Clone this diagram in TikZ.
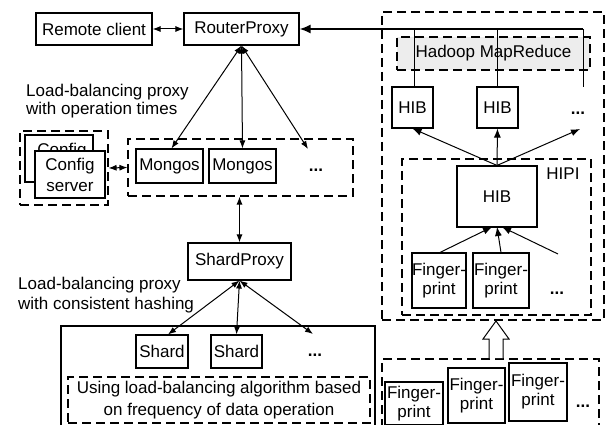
\documentclass[tikz,border=0pt]{standalone}
\usepackage{fontspec}
\setmainfont{Liberation Sans}
\usetikzlibrary{arrows.meta}
\begin{document}
\begin{tikzpicture}[x=1pt,y=-1pt,
  font=\fontsize{17}{19}\selectfont,
  box/.style={draw,line width=1.1pt,rectangle,inner sep=0pt,align=center,anchor=center},
  dbox/.style={draw,line width=1.1pt,dash pattern=on 9pt off 5pt,rectangle,inner sep=0pt,anchor=center},
  arr/.style={line width=1pt,-{Latex[length=9pt,width=7pt]}},
  darr/.style={line width=1pt,{Latex[length=8pt,width=6pt]}-{Latex[length=8pt,width=6pt]}},
  lbl/.style={align=left,inner sep=0pt,anchor=west},
  dots/.style={inner sep=0pt,font=\fontsize{17}{19}\selectfont\bfseries}
]
\useasboundingbox (0,0) rectangle (605,425);
\clip (0,0) rectangle (605,425);

% ---------- left column ----------
\node[box,minimum width=116pt,minimum height=32pt] (remote) at (94,29) {Remote client};
\node[box,minimum width=115pt,minimum height=32pt] (router) at (241.5,29) {RouterProxy};

\node[lbl,font=\fontsize{17}{18}\selectfont] (lbl1) at (26,101) {Load-balancing proxy\\with operation times};

\node[dbox,minimum width=88pt,minimum height=74pt] (cfgouter) at (64,168) {};
\node[box,minimum width=68pt,minimum height=47pt] (cfgback) at (59,158.5) {};
\node[inner sep=0pt] (cfgbacktxt) at (62,151) {Config};
\node[box,fill=white,minimum width=70pt,minimum height=47pt,font=\fontsize{17}{21}\selectfont] (cfgfront) at (70,174.5) {Config\\server};

\node[dbox,minimum width=225pt,minimum height=57pt] (mongosouter) at (240.5,167.5) {};
\node[box,minimum width=67pt,minimum height=34pt] (mongos1) at (169.5,166) {Mongos};
\node[box,minimum width=67pt,minimum height=34pt] (mongos2) at (242.5,166) {Mongos};
\node[dots] (dots1) at (316,170) {...};
\coordinate (m3) at (308,149);

\node[box,minimum width=103pt,minimum height=37pt] (shardproxy) at (239.5,261.5) {ShardProxy};
\node[lbl,font=\fontsize{17}{20}\selectfont] (lbl2) at (18,295) {Load-balancing proxy\\with consistent hashing};

\node[box,minimum width=314pt,minimum height=120pt] (shardarea) at (218,386) {};
\node[box,minimum width=52pt,minimum height=33pt] (shard1) at (162,351.5) {Shard};
\node[box,minimum width=51pt,minimum height=33pt] (shard2) at (236.5,351.5) {Shard};
\node[dots] (dots2) at (315,355) {...};
\coordinate (s3) at (313,334);
\node[dbox,minimum width=302pt,minimum height=46pt,align=center,font=\fontsize{17}{22}\selectfont] (alg) at (219,400) {Using load-balancing algorithm based\\on frequency of data operation};

\draw[darr] (remote.east) -- (router.west);
\draw[darr] (router.south) -- ([xshift=2pt]mongos1.north);
\draw[darr] (router.south) -- (mongos2.north);
\draw[darr] (router.south) -- (m3);
\draw[darr] (cfgouter.east) -- (mongosouter.west);
\draw[darr] (shardproxy.north |- mongosouter.south) -- (shardproxy.north);
\draw[darr] (shardproxy.south) -- ([xshift=6pt]shard1.north);
\draw[darr] (shardproxy.south) -- (shard2.north);
\draw[darr] (shardproxy.south) -- (s3);

% ---------- right column ----------
\node[dbox,minimum width=222pt,minimum height=308pt] (hadoopouter) at (493,166) {};
\node[dbox,fill=black!7,minimum width=193pt,minimum height=33pt] (hadoop) at (493.5,53.5) {Hadoop MapReduce};
\node[box,minimum width=41pt,minimum height=41pt] (hib1) at (412.5,107.5) {HIB};
\node[box,minimum width=41pt,minimum height=41pt] (hib2) at (497.5,107.5) {HIB};
\node[dots] (dots3) at (578,113) {...};
\coordinate (feedr) at (583,29);
\coordinate (feedrb) at (583,87);
\coordinate (h3) at (580,129);

\draw[line width=1.8pt,-{Latex[length=11pt,width=9pt]}] (feedr) -- (router.east);
\draw[line width=1pt] (feedr) -- (feedrb);
\draw[line width=1pt] ([xshift=1.5pt]hib1.north |- feedr) -- ([xshift=1.5pt]hib1.north);
\draw[line width=1pt] (hib2.north |- feedr) -- (hib2.north);

\node[dbox,minimum width=189pt,minimum height=156pt] (hipi) at (496.5,237) {};
\node[inner sep=0pt] (hipilbl) at (563,174) {HIPI};
\node[box,minimum width=80pt,minimum height=61pt] (hibbig) at (497,196.5) {HIB};
\node[box,minimum width=54pt,minimum height=55pt] (fp1) at (439,280.5) {Finger-\\print};
\node[box,minimum width=56pt,minimum height=55pt] (fp2) at (501,280.5) {Finger-\\print};
\node[dots] (dots4) at (557,293) {...};
\coordinate (f3) at (558,254);

\draw[arr] (hibbig.north) -- (hib1.south);
\draw[arr] (hibbig.north) -- (hib2.south);
\draw[arr] (hibbig.north) -- (h3);
\draw[arr] ([xshift=1pt]fp1.north) -- (492,227);
\draw[arr] (fp2.north) -- (497,227);
\draw[arr] (f3) -- (502,227);

% bottom-right fingerprints
\node[dbox,minimum width=217pt,minimum height=80pt] (fpsrc) at (490.5,399) {};
\node[box,minimum width=58pt,minimum height=43pt] (fp3) at (414,403.5) {Finger-\\print};
\node[box,minimum width=57pt,minimum height=55pt] (fp4) at (476.5,395.5) {Finger-\\print};
\node[box,minimum width=58pt,minimum height=58pt] (fp5) at (538,392) {Finger-\\print};
\node[dots] (dots5) at (583,406) {...};

\draw[line width=1pt,fill=white] (489,358) -- (489,339) -- (483,339) -- (496,321) -- (509,339) -- (503,339) -- (503,358);
\end{tikzpicture}
\end{document}
